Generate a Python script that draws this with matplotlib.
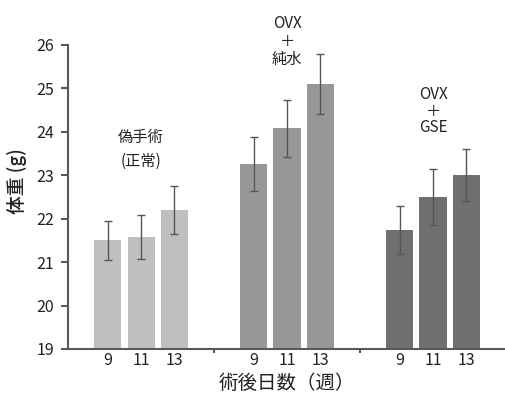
import numpy as np
import matplotlib
matplotlib.use('Agg')
import matplotlib.pyplot as plt
from matplotlib.ticker import FixedLocator

plt.rcParams['font.family'] = ['Noto Sans CJK JP', 'DejaVu Sans']

# groups and the weeks measured after surgery
groups = ['偽手術\n(正常)', 'OVX\n＋\n純水', 'OVX\n＋\nGSE']
weeks = ['9', '11', '13']

# body weight (g), mean and error per group, one value per week
means = [
    [21.50, 21.58, 22.20],
    [23.25, 24.08, 25.10],
    [21.74, 22.50, 23.00],
]
errors = [
    [0.45, 0.50, 0.55],
    [0.62, 0.65, 0.69],
    [0.55, 0.64, 0.60],
]

colors = ['#bfbfbf', '#979797', '#6f6f6f']
err_color = '#5a5453'
axis_color = '#595959'
text_color = '#222222'

fig = plt.figure(figsize=(5.06, 3.93), dpi=100)
ax = fig.add_axes([0.1344, 0.112, 0.8656, 0.7735])

width = 0.185
step = 0.229
offsets = np.array([-1, 0, 1]) * step

tick_pos = []
tick_lab = []
for i, (m, e) in enumerate(zip(means, errors)):
    x = i + offsets
    ax.bar(x, np.array(m) - 19, width, bottom=19, color=colors[i])
    ax.errorbar(x, m, yerr=e, fmt='none', ecolor=err_color,
                elinewidth=1.0, capsize=3, capthick=1.0)
    tick_pos += list(x)
    tick_lab += weeks

# group labels above the bars
ax.text(0.0, 23.6, groups[0], ha='center', va='center', fontsize=11,
        linespacing=1.55, color=text_color)
ax.text(1.0, 26.7, groups[1], ha='center', va='top', fontsize=11,
        linespacing=1.1, color=text_color, clip_on=False)
ax.text(2.0, 25.05, groups[2], ha='center', va='top', fontsize=11,
        linespacing=0.95, color=text_color)

ax.set_xlim(-0.5, 2.5)
ax.set_ylim(19, 26)
ax.set_yticks(np.arange(19, 27, 1))

ax.set_xticks(tick_pos)
ax.set_xticklabels(tick_lab)
ax.xaxis.set_minor_locator(FixedLocator([0.5, 1.5]))
ax.tick_params(axis='x', which='major', length=0, labelsize=11.5, pad=2,
               labelcolor=text_color)
ax.tick_params(axis='x', which='minor', length=3, width=1.5, color=axis_color,
               direction='out')
ax.tick_params(axis='y', length=5, width=1.5, color=axis_color, labelsize=11.5,
               labelcolor=text_color, pad=5)

for side in ['top', 'right']:
    ax.spines[side].set_visible(False)
for side in ['left', 'bottom']:
    ax.spines[side].set_color(axis_color)
    ax.spines[side].set_linewidth(1.5)

ax.set_ylabel('体重 (g)', fontsize=13.5, fontweight='medium', color=text_color)
ax.yaxis.set_label_coords(-0.093, 0.551)
ax.set_xlabel('術後日数（週）', fontsize=14, color=text_color, labelpad=3)

fig.savefig('out.png', dpi=100)
